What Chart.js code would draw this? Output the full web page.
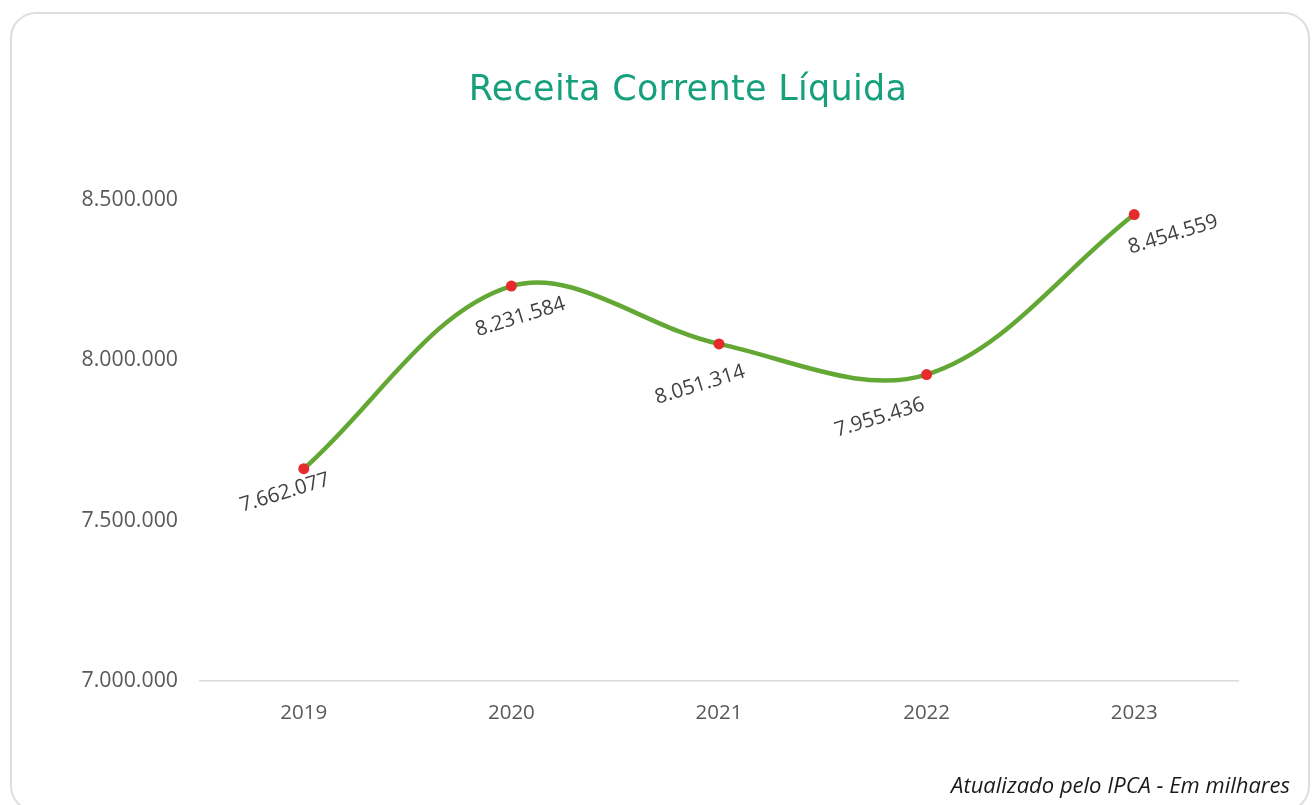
<!DOCTYPE html>
<html>
<head>
<meta charset="utf-8">
<script src="https://cdn.jsdelivr.net/npm/chart.js@4"></script>
<style>
  html, body { margin:0; padding:0; background:#fff; width:1314px; height:805px; overflow:hidden; }
  #card { position:absolute; left:10px; top:12px; width:1300px; height:800px; border:2px solid #dedede; border-radius:26px; box-sizing:border-box; }
  #wrap { position:absolute; left:0; top:0; width:1314px; height:805px; }
  #title { position:absolute; left:0; width:1376px; top:68px; text-align:center; font-family:"DejaVu Sans", sans-serif; font-size:35px; color:#16a07c; letter-spacing:0.3px; }
  #note { position:absolute; right:24px; top:769px; font-family:"Open Sans", sans-serif; font-style:italic; font-size:22px; color:#1a1a1a; }
</style>
</head>
<body>
<div id="card"></div>
<div id="wrap"><canvas id="c" width="1314" height="805"></canvas></div>
<div id="title">Receita Corrente Líquida</div>
<div id="note">Atualizado pelo IPCA - Em milhares</div>
<script>
const categories = ["2019", "2020", "2021", "2022", "2023"];
const receita = [7662077, 8231584, 8051314, 7955436, 8454559];
const yTicks = [7000000, 7500000, 8000000, 8500000];
const labelOffsets = [[-19, 24], [9, 31], [-19, 41], [-47, 43], [39, 20]];

function fmt(v) {
  return String(Math.round(v)).replace(/\B(?=(\d{3})+(?!\d))/g, ".");
}

const dataLabels = {
  id: "dataLabels",
  afterDatasetsDraw(chart) {
    const ctx = chart.ctx;
    const meta = chart.getDatasetMeta(0);
    ctx.save();
    ctx.font = '20.5px "Open Sans", sans-serif';
    ctx.fillStyle = "#404040";
    ctx.textAlign = "center";
    ctx.textBaseline = "middle";
    meta.data.forEach((pt, i) => {
      const off = labelOffsets[i];
      ctx.save();
      ctx.translate(pt.x + off[0], pt.y + off[1]);
      ctx.rotate(-17 * Math.PI / 180);
      ctx.fillText(fmt(chart.data.datasets[0].data[i]), 0, 0);
      ctx.restore();
    });
    ctx.restore();
  }
};

new Chart(document.getElementById("c"), {
  type: "line",
  data: {
    labels: categories,
    datasets: [{
      data: receita,
      borderColor: "#63a834",
      borderWidth: 4.5,
      tension: 0.35,
      pointBackgroundColor: "#e52b2b",
      pointBorderColor: "#e52b2b",
      pointRadius: 5.5,
      pointBorderWidth: 0,
      clip: false
    }]
  },
  options: {
    responsive: false,
    animation: false,
    events: [],
    layout: { padding: { top: 200, left: 0, right: 76, bottom: 0 } },
    plugins: { legend: { display: false }, tooltip: { enabled: false }, title: { display: false } },
    scales: {
      x: {
        offset: true,
        grid: { display: false, drawTicks: false },
        border: { display: true, color: "#d9d9d9", width: 1.5 },
        ticks: { color: "#595959", font: { family: '"Open Sans", sans-serif', size: 20.5 }, padding: 20 },
        afterFit(s) { s.height = 124; }
      },
      y: {
        min: 7000000,
        max: 8500000,
        afterBuildTicks(s) { s.ticks = yTicks.map(v => ({ value: v })); },
        grid: { display: false, drawTicks: false },
        border: { display: false },
        ticks: { color: "#595959", font: { family: '"Open Sans", sans-serif', size: 21.3 }, padding: 22, callback: v => fmt(v) },
        afterFit(s) { s.width = 200; }
      }
    }
  },
  plugins: [dataLabels]
});
</script>
</body>
</html>
